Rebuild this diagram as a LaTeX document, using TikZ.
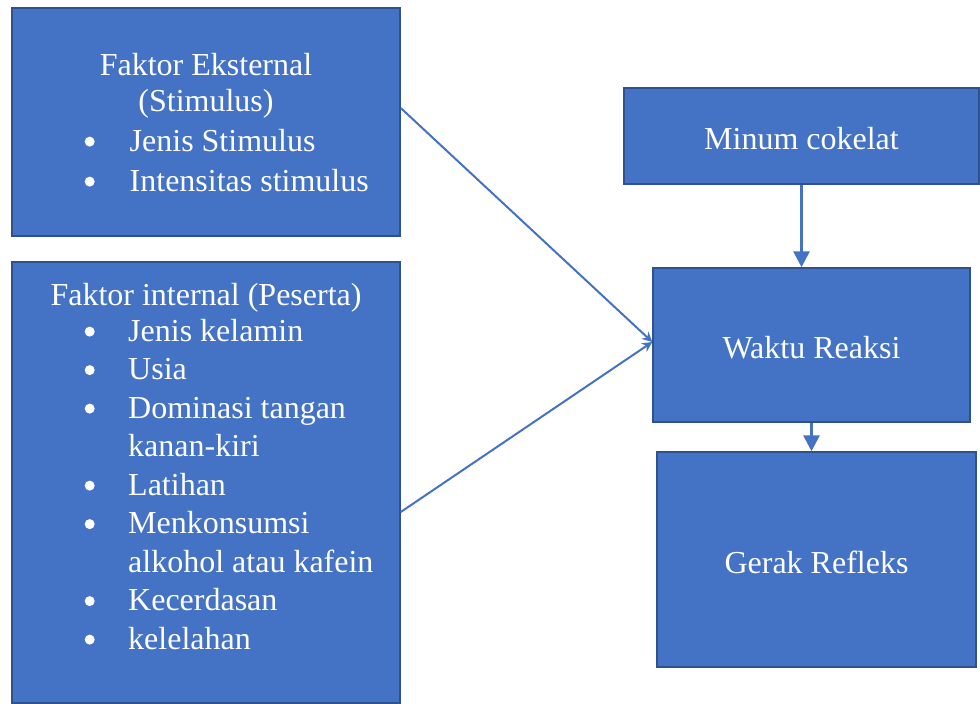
\documentclass[tikz,border=0pt]{standalone}
\usepackage{fontspec}
\setmainfont{Liberation Serif}
\usetikzlibrary{positioning,arrows.meta}
\definecolor{boxfill}{HTML}{4472C4}
\definecolor{boxline}{HTML}{2F528F}
\newcommand{\dotmark}{\tikz[baseline=-9.4pt]\fill[white] (0,0) circle (5pt);}
\newcommand{\itmA}{\makebox[45pt][l]{\dotmark}}
\newcommand{\itmB}{\makebox[43.5pt][l]{\dotmark}}
\begin{document}
\begin{tikzpicture}
[x=1pt,y=-1pt,
box/.style={rectangle,draw=boxline,line width=1.5pt,fill=boxfill,inner sep=0pt},
boxtext/.style={text=white,font=\fontsize{32}{38.5}\selectfont,inner sep=0pt},
edge/.style={draw=boxfill,line width=2pt},
connect/.style={edge,-{Stealth[length=10pt,width=10pt]}},
arrow/.style={edge,line width=3pt,-{Triangle[length=16pt,width=16pt]}}]
\useasboundingbox (0,0) rectangle (980,704);
% boxes
\node[box,minimum width=388pt,minimum height=228pt] (eksternal) at (206,122) {};
\node[box,minimum width=388pt,minimum height=441pt] (internal) at (206,482.5) {};
\node[box,minimum width=355pt,minimum height=96pt] (minum) at (801.5,136) {};
\node[box,minimum width=317pt,minimum height=154pt] (waktu) at (811.5,345) {};
\node[box,minimum width=319pt,minimum height=215pt] (gerak) at (816.5,559.5) {};
% texts (base = last line)
\node[boxtext,align=center,anchor=base,font=\fontsize{32}{36}\selectfont] (eksternalhead) at (206,111) {Faktor Eksternal\\(Stimulus)};
\node[boxtext,align=left,anchor=base west,font=\fontsize{32}{40}\selectfont] (eksternallist) at (84.5,191)
  {\itmA Jenis Stimulus\\\itmA Intensitas stimulus};
\node[boxtext,anchor=base] (internalhead) at (206,305) {Faktor internal (Peserta)};
\node[boxtext,align=left,anchor=base west] (internallist) at (84.5,649)
  {\itmB Jenis kelamin\\\itmB Usia\\\itmB Dominasi tangan\\\hspace*{43.5pt}kanan-kiri\\\itmB Latihan\\
   \itmB Menkonsumsi\\\hspace*{43.5pt}alkohol atau kafein\\\itmB Kecerdasan\\\itmB kelelahan};
\node[boxtext,yshift=-3pt] (minumtext) at (minum) {Minum cokelat};
\node[boxtext,yshift=-3pt] (waktutext) at (waktu) {Waktu Reaksi};
\node[boxtext,yshift=-3pt] (geraktext) at (gerak) {Gerak Refleks};
% connectors
\draw[connect] ([yshift=14pt]eksternal.east) -- ([yshift=3pt]waktu.west);
\draw[connect] ([yshift=-29.5pt]internal.east) -- ([yshift=3pt]waktu.west);
\draw[arrow] (minum.south) -- (minum.south |- waktu.north);
\draw[arrow] (waktu.south) -- (waktu.south |- gerak.north);
\end{tikzpicture}
\end{document}
